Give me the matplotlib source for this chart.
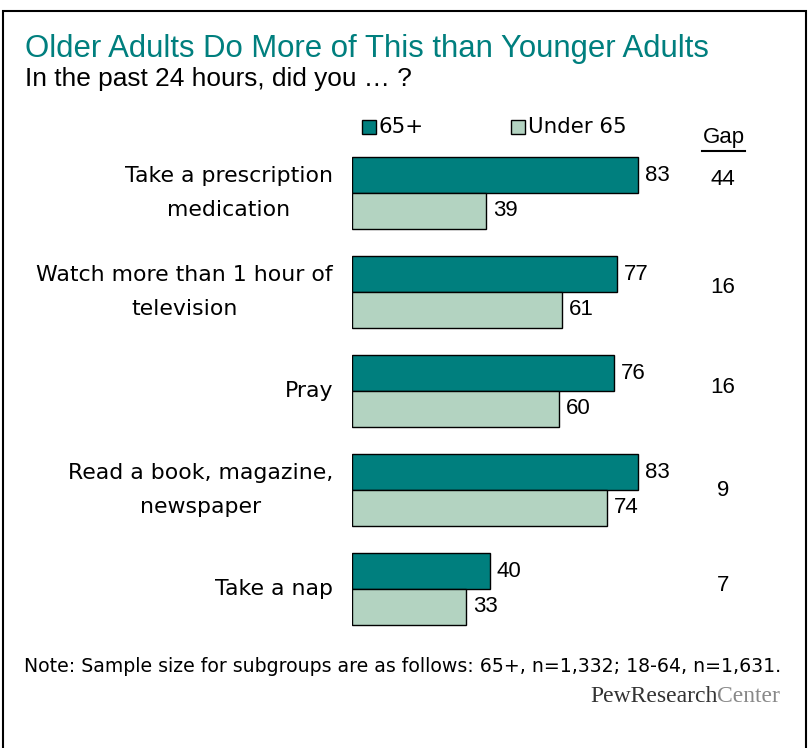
import matplotlib.pyplot as plt
from matplotlib.patches import Rectangle
from matplotlib.lines import Line2D

categories = ['Take a prescription\nmedication', 'Watch more than 1 hour of\ntelevision',
              'Pray', 'Read a book, magazine,\nnewspaper', 'Take a nap']
older = [83, 77, 76, 83, 40]
younger = [39, 61, 60, 74, 33]
series_names = ['65+', 'Under 65']

TEAL = '#007f7e'
LIGHT = '#b3d3c1'
W, H = 811, 748
num_font = ['Liberation Sans', 'DejaVu Sans']
text_font = ['DejaVu Sans']


def fx(px):
    return px / W


def fy(py):
    return 1 - py / H


fig = plt.figure(figsize=(W / 100, H / 100), dpi=100)

# frame around the whole chart
fig.add_artist(Rectangle((fx(3), -0.05), fx(803), fy(11) + 0.05, transform=fig.transFigure,
                         fill=False, edgecolor='black', linewidth=1.5))

fig.text(fx(25), fy(49), 'Older Adults Do More of This than Younger Adults', color=TEAL,
         fontsize=22.4, va='center', ha='left', family=num_font)
fig.text(fx(25), fy(79), 'In the past 24 hours, did you \u2026 ?', color='black',
         fontsize=18.9, va='center', ha='left', family=num_font)

# axes: 3.446 px per unit, groups 99 px apart
ax = fig.add_axes([fx(352), fy(638.5), fx(344.6), 495 / H])
ax.set_xlim(0, 100)
ax.set_ylim(4.5, -0.5)
ax.axis('off')

ys = list(range(len(categories)))
bh = 0.36
ax.barh([y - bh / 2 for y in ys], older, height=bh, color=TEAL, edgecolor='black', linewidth=1)
ax.barh([y + bh / 2 for y in ys], younger, height=bh, color=LIGHT, edgecolor='black', linewidth=1)

# gap column sits a little above the group centre
gap_shift = [-0.14, -0.05, -0.04, 0.0, -0.04]
for y, cat, o, u, s in zip(ys, categories, older, younger, gap_shift):
    ax.text(o + 2, y - bh / 2, str(o), va='center', ha='left', fontsize=16, family=num_font)
    ax.text(u + 2, y + bh / 2, str(u), va='center', ha='left', fontsize=16, family=num_font)
    ax.text(-5.5, y, cat, va='center', ha='right', multialignment='center', fontsize=15.8,
            linespacing=1.85, family=text_font)
    ax.text(107.7, y + s, str(o - u), va='center', ha='center', fontsize=16,
            family=num_font, clip_on=False)

# legend
for sx, color, name in zip([362, 511], [TEAL, LIGHT], series_names):
    fig.add_artist(Rectangle((fx(sx), fy(134)), fx(14), 14 / H, transform=fig.transFigure,
                             facecolor=color, edgecolor='black', linewidth=1))
    fig.text(fx(sx + 17), fy(127), name, fontsize=15.4, va='center', ha='left', family=text_font)

fig.text(fx(724), fy(138), 'Gap', fontsize=16, va='center', ha='center', family=num_font)
fig.add_artist(Line2D([fx(702), fx(745)], [fy(151), fy(151)], transform=fig.transFigure,
                      color='black', linewidth=1.5))

fig.text(fx(24), fy(666), 'Note: Sample size for subgroups are as follows: 65+, n=1,332; 18-64, n=1,631.',
         fontsize=13.6, va='center', ha='left', family=text_font)

logo = fig.text(fx(590), fy(696), 'PewResearch', fontsize=17, va='center', ha='left',
                family='Liberation Serif', color='#333333')
fig.canvas.draw()
bb = logo.get_window_extent()
fig.text(bb.x1 / W, fy(696), 'Center', fontsize=17, va='center', ha='left',
         family='Liberation Serif', color='#888888')

fig.savefig('out.png', dpi=100)
